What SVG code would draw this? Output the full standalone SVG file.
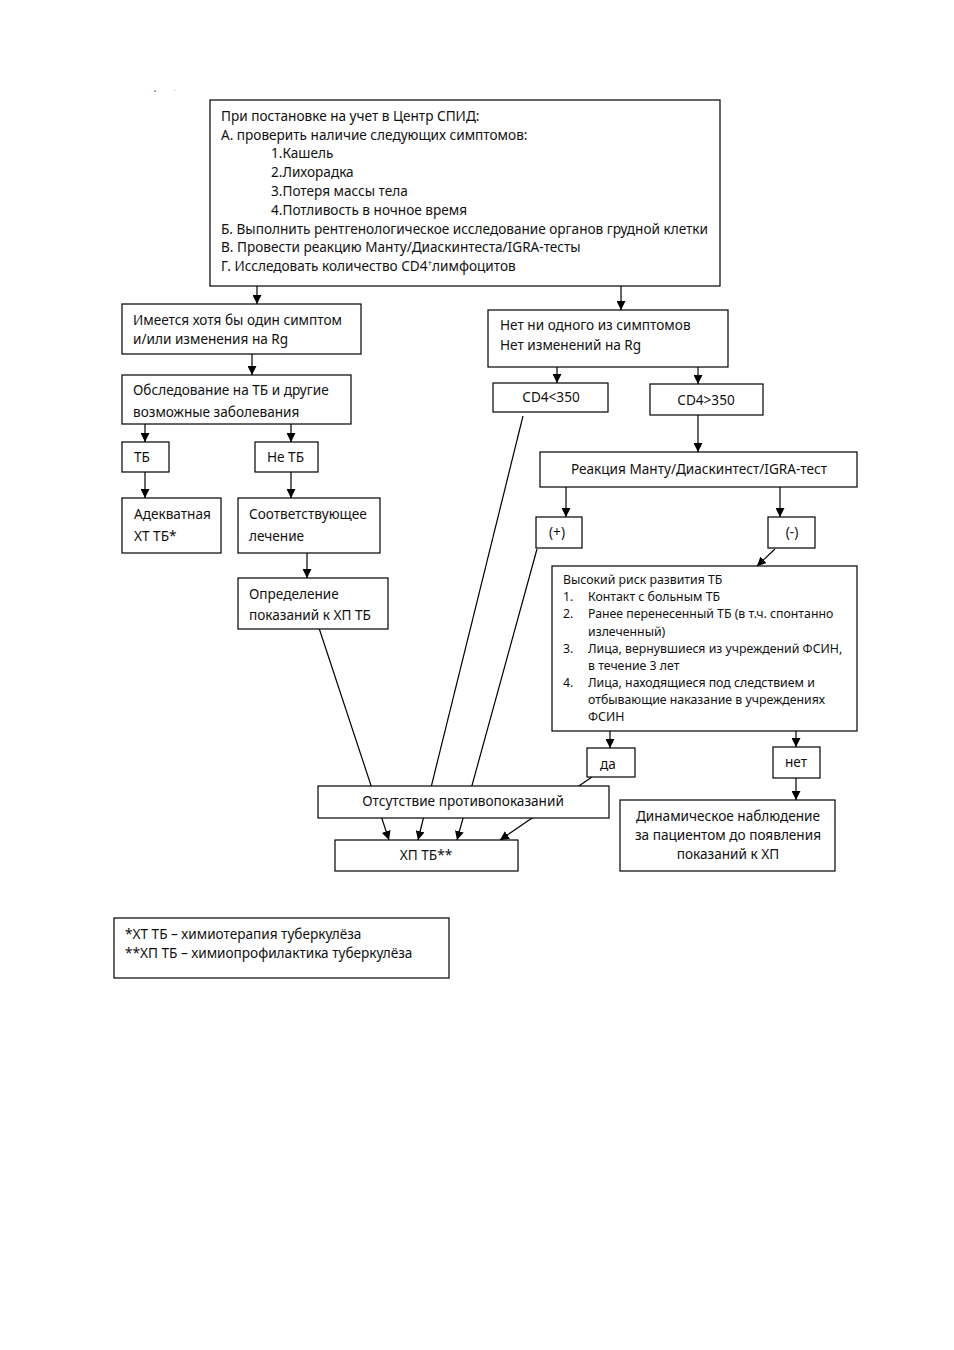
<svg xmlns="http://www.w3.org/2000/svg" width="954" height="1350" viewBox="0 0 954 1350">
<defs>
<marker id="ah" viewBox="0 0 10 10" refX="10" refY="5" markerWidth="9" markerHeight="9" markerUnits="userSpaceOnUse" orient="auto">
<path d="M0,0 L10,5 L0,10 z" fill="#000"/>
</marker>
<style>
.box{fill:#fff;stroke:#000;stroke-width:1.2}
.t{font-family:"Noto Sans","Open Sans","DejaVu Sans",sans-serif;font-size:13.6px;fill:#111}
.s{font-family:"Noto Sans","Open Sans","DejaVu Sans",sans-serif;font-size:12.3px;fill:#111}
.c{text-anchor:middle}
.ln{stroke:#000;stroke-width:1.2;fill:none}
.a{stroke:#000;stroke-width:1.2;fill:none;marker-end:url(#ah)}
</style>
</defs>
<rect width="954" height="1350" fill="#fff"/>
<circle cx="155" cy="91" r="1" fill="#6a8fc8"/>
<circle cx="175" cy="90" r="0.6" fill="#9ab"/>
<g id="connectors">
<line class="a" x1="257" y1="286" x2="257" y2="304"/>
<line class="a" x1="621" y1="286" x2="621" y2="310"/>
<line class="a" x1="252" y1="354" x2="252" y2="375"/>
<line class="a" x1="145" y1="424" x2="145" y2="442"/>
<line class="a" x1="291" y1="424" x2="291" y2="442"/>
<line class="a" x1="145" y1="472" x2="145" y2="498"/>
<line class="a" x1="291" y1="472" x2="291" y2="498"/>
<line class="a" x1="307" y1="553" x2="307" y2="578"/>
<line class="a" x1="557" y1="367" x2="557" y2="383"/>
<line class="a" x1="698" y1="367" x2="698" y2="384"/>
<line class="a" x1="698" y1="415" x2="698" y2="452"/>
<line class="a" x1="566" y1="487" x2="566" y2="517"/>
<line class="a" x1="780" y1="487" x2="780" y2="517"/>
<line class="a" x1="775" y1="549" x2="757" y2="566"/>
<line class="a" x1="610" y1="731" x2="610" y2="748"/>
<line class="a" x1="796" y1="731" x2="796" y2="747"/>
<line class="a" x1="796" y1="778" x2="796" y2="800"/>
<line class="a" x1="319" y1="628" x2="389" y2="840"/>
<line class="a" x1="523" y1="416" x2="418" y2="840"/>
<line class="a" x1="537" y1="549" x2="457" y2="840"/>
<line class="a" x1="592" y1="777" x2="500" y2="840"/>
</g>
<g id="n-top">
<rect class="box" x="210" y="100" width="510" height="186"/>
<text class="t" x="221" y="121">При постановке на учет в Центр СПИД:</text>
<text class="t" x="221" y="140">А. проверить наличие следующих симптомов:</text>
<text class="t" x="271" y="158">1.Кашель</text>
<text class="t" x="271" y="177">2.Лихорадка</text>
<text class="t" x="271" y="196">3.Потеря массы тела</text>
<text class="t" x="271" y="215">4.Потливость в ночное время</text>
<text class="t" x="221" y="234">Б. Выполнить рентгенологическое исследование органов грудной клетки</text>
<text class="t" x="221" y="252">В. Провести реакцию Манту/Диаскинтеста/IGRA-тесты</text>
<text class="t" x="221" y="271">Г. Исследовать количество CD4<tspan font-size="8" dy="-5">+</tspan><tspan dy="5">лимфоцитов</tspan></text>
</g>
<g id="n-symptom">
<rect class="box" x="122" y="304" width="239" height="50"/>
<text class="t" x="133" y="325">Имеется хотя бы один симптом</text>
<text class="t" x="133" y="344">и/или изменения на Rg</text>
</g>
<g id="n-exam">
<rect class="box" x="122" y="375" width="229" height="49"/>
<text class="t" x="133" y="395">Обследование на ТБ и другие</text>
<text class="t" x="133" y="417">возможные заболевания</text>
</g>
<g id="n-tb">
<rect class="box" x="122" y="442" width="47" height="30"/>
<text class="t" x="134" y="462">ТБ</text>
</g>
<g id="n-nottb">
<rect class="box" x="255" y="442" width="63" height="30"/>
<text class="t" x="267" y="462">Не ТБ</text>
</g>
<g id="n-xt">
<rect class="box" x="122" y="498" width="99" height="55"/>
<text class="t" x="134" y="519">Адекватная</text>
<text class="t" x="134" y="541">ХТ ТБ*</text>
</g>
<g id="n-treat">
<rect class="box" x="238" y="498" width="142" height="55"/>
<text class="t" x="249" y="519">Соответствующее</text>
<text class="t" x="249" y="541">лечение</text>
</g>
<g id="n-def">
<rect class="box" x="238" y="578" width="150" height="51"/>
<text class="t" x="249" y="599">Определение</text>
<text class="t" x="249" y="620">показаний к ХП ТБ</text>
</g>
<g id="n-none">
<rect class="box" x="488" y="310" width="240" height="57"/>
<text class="t" x="500" y="330">Нет ни одного из симптомов</text>
<text class="t" x="500" y="350">Нет изменений на Rg</text>
</g>
<g id="n-cd4low">
<rect class="box" x="493" y="383" width="115" height="29"/>
<text class="t c" x="551" y="402">CD4&lt;350</text>
</g>
<g id="n-cd4high">
<rect class="box" x="650" y="384" width="113" height="31"/>
<text class="t c" x="706" y="405">CD4&gt;350</text>
</g>
<g id="n-mantoux">
<rect class="box" x="540" y="452" width="317" height="35"/>
<text class="t c" x="699" y="474">Реакция Манту/Диаскинтест/IGRA-тест</text>
</g>
<g id="n-plus">
<rect class="box" x="536" y="517" width="46" height="31"/>
<text class="t c" x="557" y="537">(+)</text>
</g>
<g id="n-minus">
<rect class="box" x="768" y="517" width="47" height="31"/>
<text class="t c" x="792" y="537">(-)</text>
</g>
<g id="n-risk">
<rect class="box" x="552" y="566" width="305" height="165"/>
<text class="s" x="563" y="584">Высокий риск развития ТБ</text>
<text class="s" x="563" y="601">1.</text>
<text class="s" x="588" y="601">Контакт с больным ТБ</text>
<text class="s" x="563" y="618">2.</text>
<text class="s" x="588" y="618">Ранее перенесенный ТБ (в т.ч. спонтанно</text>
<text class="s" x="588" y="636">излеченный)</text>
<text class="s" x="563" y="653">3.</text>
<text class="s" x="588" y="653">Лица, вернувшиеся из учреждений ФСИН,</text>
<text class="s" x="588" y="670">в течение 3 лет</text>
<text class="s" x="563" y="687">4.</text>
<text class="s" x="588" y="687">Лица, находящиеся под следствием и</text>
<text class="s" x="588" y="704">отбывающие наказание в учреждениях</text>
<text class="s" x="588" y="721">ФСИН</text>
</g>
<g id="n-yes">
<rect class="box" x="587" y="748" width="48" height="29"/>
<text class="t" x="600" y="769">да</text>
</g>
<g id="n-no">
<rect class="box" x="773" y="747" width="47" height="31"/>
<text class="t c" x="796" y="767">нет</text>
</g>
<g id="n-dyn">
<rect class="box" x="620" y="800" width="215" height="71"/>
<text class="t c" x="728" y="821">Динамическое наблюдение</text>
<text class="t c" x="728" y="840">за пациентом до появления</text>
<text class="t c" x="728" y="859">показаний к ХП</text>
</g>
<g id="n-nocontra">
<rect class="box" x="318" y="786" width="291" height="32"/>
<text class="t c" x="463" y="806">Отсутствие противопоказаний</text>
</g>
<g id="n-xp">
<rect class="box" x="335" y="840" width="183" height="31"/>
<text class="t c" x="426" y="860">ХП ТБ**</text>
</g>
<g id="legend">
<rect class="box" x="114" y="918" width="335" height="60"/>
<text class="t" x="125" y="939">*ХТ ТБ – химиотерапия туберкулёза</text>
<text class="t" x="125" y="958">**ХП ТБ – химиопрофилактика туберкулёза</text>
</g>
</svg>
